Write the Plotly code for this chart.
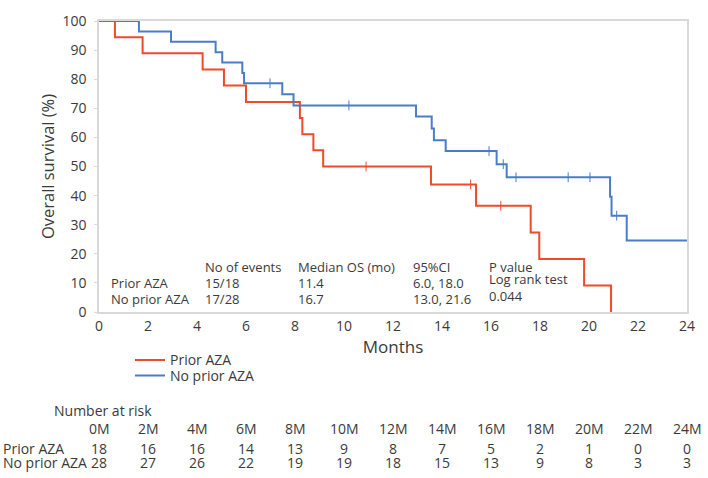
import plotly.graph_objects as go

# ---- data ----
prior_t = [0, 0.65, 1.78, 4.23, 5.1, 6.0, 8.2, 8.3, 8.75, 9.15, 13.55, 15.39, 17.62, 17.97, 19.8, 20.9]
prior_s = [100, 94.4, 88.9, 83.3, 77.8, 72.2, 66.7, 61.1, 55.6, 50.0, 43.8, 36.5, 27.3, 18.2, 9.1, 0]
prior_cens_t = [10.9, 15.17, 16.4]
prior_cens_s = [50.0, 43.8, 36.5]

noprior_t = [0, 1.63, 2.94, 4.76, 5.03, 5.85, 5.92, 7.48, 7.94, 12.94, 13.58, 13.67, 14.15, 16.23, 16.64, 20.86, 20.92, 21.54, 24]
noprior_s = [100, 96.4, 92.9, 89.3, 85.7, 82.1, 78.6, 74.8, 71.0, 67.2, 63.1, 59.0, 55.3, 50.8, 46.3, 39.6, 33.1, 24.6, 24.6]
noprior_cens_t = [6.98, 10.2, 15.92, 16.5, 17.02, 19.15, 20.04, 21.13]
noprior_cens_s = [78.6, 71.0, 55.3, 50.8, 46.3, 46.3, 46.3, 33.1]

risk_months = [0, 2, 4, 6, 8, 10, 12, 14, 16, 18, 20, 22, 24]
risk_labels = [f"{m}M" for m in risk_months]
risk_prior = [18, 16, 16, 14, 13, 9, 8, 7, 5, 2, 1, 0, 0]
risk_noprior = [28, 27, 26, 22, 19, 19, 18, 15, 13, 9, 8, 3, 3]

stats_cols = ["", "No of events", "Median OS (mo)", "95%CI"]
stats_prior = ["Prior AZA", "15/18", "11.4", "6.0, 18.0"]
stats_noprior = ["No prior AZA", "17/28", "16.7", "13.0, 21.6"]
stats_col_x = [0.41, 4.23, 8.04, 12.73]
pvalue_lines = ["P value", "Log rank test", "0.044"]

RED = "#EE4A2B"
BLUE = "#4A7DC8"
TXT = "#3a3a3a"
FONT = "Open Sans"

fig = go.Figure()
fig.add_trace(go.Scatter(x=prior_t, y=prior_s, mode="lines", line_shape="hv",
                         line=dict(color=RED, width=2), name="Prior AZA", legend="legend"))
fig.add_trace(go.Scatter(x=noprior_t, y=noprior_s, mode="lines", line_shape="hv",
                         line=dict(color=BLUE, width=2), name="No prior AZA", legend="legend2"))
fig.add_trace(go.Scatter(x=prior_cens_t, y=prior_cens_s, mode="markers", showlegend=False,
                         marker=dict(symbol="line-ns", size=7, line=dict(color=RED, width=1))))
fig.add_trace(go.Scatter(x=noprior_cens_t, y=noprior_cens_s, mode="markers", showlegend=False,
                         marker=dict(symbol="line-ns", size=7, line=dict(color=BLUE, width=1))))


def px(p):
    return (p - 99) / 588.0


def py(p):
    return (312 - p) / 301.0


ann = []
# stats table inside plot
row_y = [15.6, 10.1, 4.55]
for i, x in enumerate(stats_col_x):
    for j, txt in enumerate([stats_cols[i], stats_prior[i], stats_noprior[i]]):
        if txt:
            ann.append(dict(x=x, y=row_y[j], xref="x", yref="y", text=txt, showarrow=False,
                            xanchor="left", yanchor="middle", font=dict(size=13, color=TXT, family=FONT)))
for txt, yv in zip(pvalue_lines, [15.6, 11.2, 5.6]):
    ann.append(dict(x=15.85, y=yv, xref="x", yref="y", text=txt, showarrow=False,
                    xanchor="left", yanchor="middle", font=dict(size=13, color=TXT, family=FONT)))

# number at risk table
ann.append(dict(x=px(52), y=py(414), xref="paper", yref="paper", text="Number at risk", showarrow=False,
                xanchor="left", yanchor="middle", font=dict(size=14, color=TXT, family=FONT)))
for m, lab, a, b in zip(risk_months, risk_labels, risk_prior, risk_noprior):
    for txt, yy in [(lab, 433), (str(a), 453), (str(b), 468)]:
        ann.append(dict(x=m, y=py(yy), xref="x", yref="paper", text=txt, showarrow=False,
                        xanchor="center", yanchor="middle", font=dict(size=14, color=TXT, family=FONT)))
for txt, yy in [("Prior AZA", 453), ("No prior AZA", 468)]:
    ann.append(dict(x=px(1), y=py(yy), xref="paper", yref="paper", text=txt, showarrow=False,
                    xanchor="left", yanchor="middle", font=dict(size=14, color=TXT, family=FONT)))

leg_common = dict(xanchor="left", yanchor="middle", bgcolor="rgba(0,0,0,0)",
                  font=dict(size=14, color=TXT, family=FONT), itemwidth=30)

fig.update_layout(
    width=708, height=478,
    margin=dict(l=99, r=21, t=11, b=166),
    paper_bgcolor="white", plot_bgcolor="white",
    font=dict(family=FONT, color=TXT),
    annotations=ann,
    legend=dict(x=px(130), y=py(362), **leg_common),
    legend2=dict(x=px(130), y=py(378), **leg_common),
    xaxis=dict(range=[0, 24], tickmode="array", tickvals=list(range(0, 25, 2)),
               showgrid=False, zeroline=False, showline=True, linecolor="#d9d9d9", linewidth=1.5,
               mirror=True, ticks="", tickfont=dict(size=14, color=TXT),
               title=dict(text="Months", font=dict(size=17, color=TXT), standoff=6)),
    yaxis=dict(range=[0, 100], tickmode="array", tickvals=list(range(0, 101, 10)),
               showgrid=False, zeroline=False, showline=True, linecolor="#d9d9d9", linewidth=1.5,
               mirror=True, ticks="outside", ticklen=3, tickcolor="#d9d9d9",
               tickfont=dict(size=14, color=TXT), ticklabelstandoff=5,
               title=dict(text="Overall survival (%)", font=dict(size=16.5, color=TXT), standoff=4)),
)

fig.write_html("out.html")
